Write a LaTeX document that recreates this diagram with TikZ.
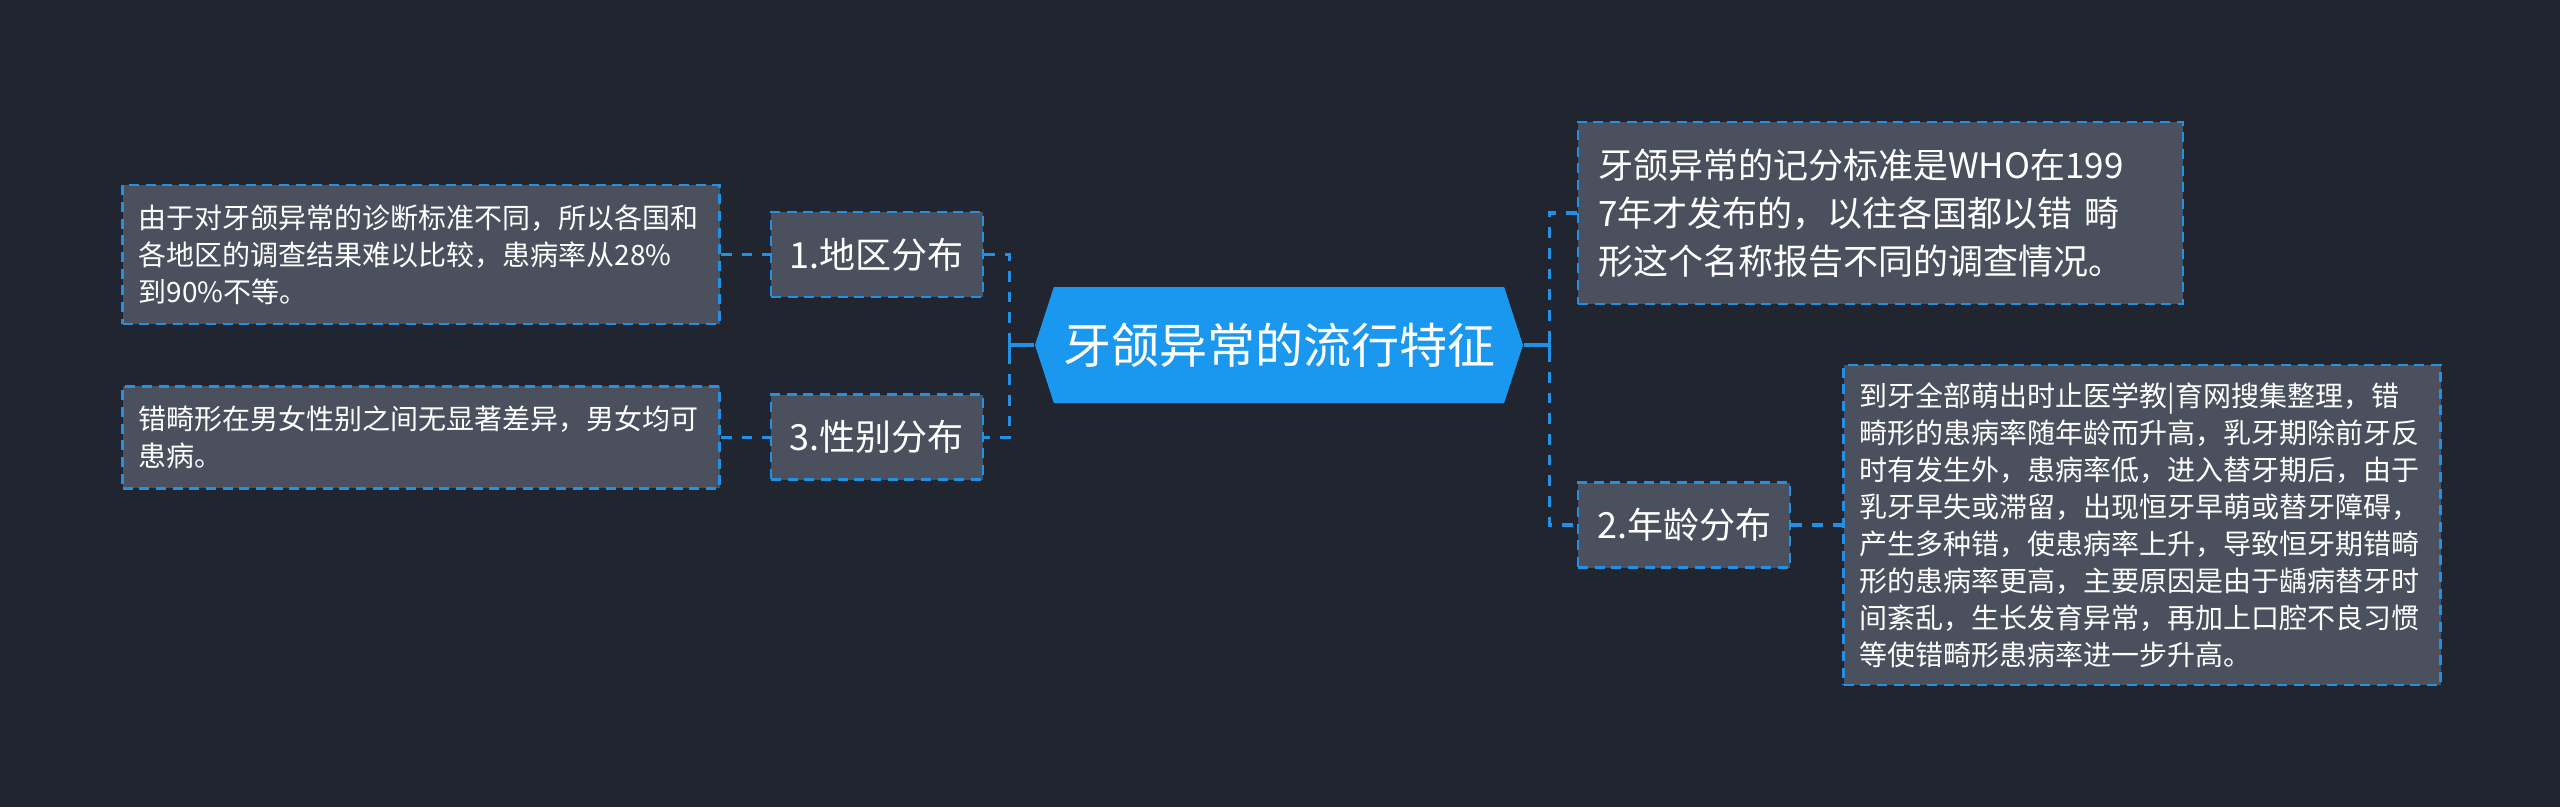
\documentclass[tikz,border=0pt]{standalone}
\usepackage{fontspec}
\setmainfont{Noto Sans CJK SC}
\usetikzlibrary{positioning,shapes.symbols}
\definecolor{bgdark}{HTML}{21252F}
\definecolor{boxgray}{HTML}{4A505E}
\definecolor{linkblue}{HTML}{2191E6}
\definecolor{rootblue}{HTML}{1A98F0}
\tikzset{  topic/.style={shape=signal,signal to=east and west,signal pointer angle=144,fill=rootblue,text=white,minimum width=146.4pt,minimum height=34.8pt,inner sep=0pt,font=\fontsize{14.4}{17}\selectfont},
  branch/.style={draw=linkblue,fill=boxgray,dash pattern=on 3pt off 2pt,line width=0.8pt,text=white,minimum width=63.6pt,minimum height=25.5pt,inner sep=0pt,font=\fontsize{10.8}{13}\selectfont},
  leaf/.style={branch,align=left,text width=169.5pt,inner xsep=4.8pt,inner ysep=0pt,font=\fontsize{8.4}{11.1}\selectfont},
  leafbig/.style={leaf,inner xsep=6pt,font=\fontsize{10.5}{14.4}\selectfont},
  link/.style={draw=linkblue,line width=1pt,dash pattern=on 3.2pt off 3pt},
  stub/.style={draw=linkblue,line width=1pt} }

\begin{document}
\begin{tikzpicture}[x=0.3pt,y=-0.3pt]
   \fill[bgdark] (0,0) rectangle (2560,807);
   \useasboundingbox (0,0) rectangle (2560,807);
   \node[topic] (root) at (1279,345) {牙颌异常的流行特征};
   % left side
   \node[branch,left=15pt of root.west,yshift=27.15pt] (area) {1.地区分布};
   \node[branch,below=28.5pt of area] (sex) {3.性别分布};
   \node[leaf,left=14.6pt of area,minimum height=41.7pt] (areatxt) {由于对牙颌异常的诊断标准不同，所以各国和\\各地区的调查结果难以比较，患病率从28\%\\到90\%不等。};
   \node[leaf,left=14.6pt of sex,minimum height=30.6pt] (sextxt) {错畸形在男女性别之间无显著差异，男女均可\\患病。};
   % right side
   \node[leafbig,right=15.9pt of root.east,yshift=39.6pt,minimum height=54.6pt] (who) {牙颌异常的记分标准是WHO在199\\7年才发布的，以往各国都以错 畸\\形这个名称报告不同的调查情况。};
   \node[branch,right=15.9pt of root.east,yshift=-54pt] (age) {2.年龄分布};
   \node[leaf,right=15.3pt of age,minimum height=96pt] (agetxt) {到牙全部萌出时止医学教|育网搜集整理，错\\畸形的患病率随年龄而升高，乳牙期除前牙反\\时有发生外，患病率低，进入替牙期后，由于\\乳牙早失或滞留，出现恒牙早萌或替牙障碍，\\产生多种错，使患病率上升，导致恒牙期错畸\\形的患病率更高，主要原因是由于龋病替牙时\\间紊乱，生长发育异常，再加上口腔不良习惯\\等使错畸形患病率进一步升高。};
   % connectors
   \coordinate[left=7.5pt of root.west] (lbus);
   \coordinate[right=7.8pt of root.east] (rbus);
   \draw[stub] (root.west) -- (lbus);
   \draw[stub] ([yshift=3.15pt]lbus) -- ([yshift=-3.15pt]lbus);
   \draw[stub] (root.east) -- (rbus);
   \draw[stub] ([yshift=3.15pt]rbus) -- ([yshift=-3.15pt]rbus);
   \draw[link] (area.east) -| (lbus) |- (sex.east);
   \draw[link] (who.west) -| (rbus) |- (age.west);
   \draw[link] (areatxt) -- (area);
   \draw[link] (sextxt) -- (sex);
   \draw[link] (age) -- (agetxt);
  \end{tikzpicture}
\end{document}
